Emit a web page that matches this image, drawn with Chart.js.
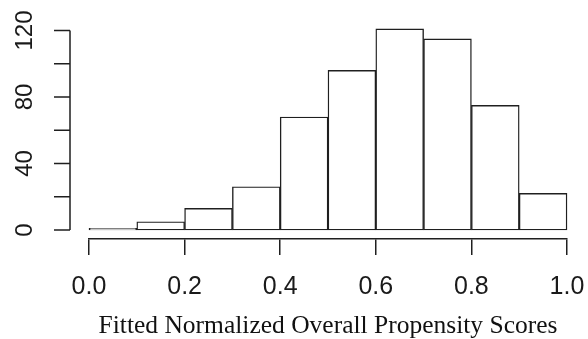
<!DOCTYPE html>
<html><head><meta charset="utf-8">
<script src="https://cdn.jsdelivr.net/npm/chart.js@4/dist/chart.umd.min.js"></script>
<style>html,body{margin:0;padding:0;background:#fff}#wrap{width:588px;height:339px}</style>
</head><body><div id="wrap"><canvas id="c" width="588" height="339"></canvas></div>
<script>
// ---- data ----
const binMids = [0.05, 0.15, 0.25, 0.35, 0.45, 0.55, 0.65, 0.75, 0.85, 0.95];
const counts = [1, 5, 13, 26, 68, 96, 121, 115, 75, 22];
const xTickValues = [0, 0.2, 0.4, 0.6, 0.8, 1.0];
const xTickLabels = ['0.0', '0.2', '0.4', '0.6', '0.8', '1.0'];
const yTickValues = [0, 20, 40, 60, 80, 100, 120];
const yLabelValues = [0, 40, 80, 120];
const yLabelTexts = ['0', '40', '80', '120'];
const xTitle = 'Fitted Normalized Overall Propensity Scores';

// ---- style ----
const LINE = '#1f1f1f';
const TEXT = '#1a1a1a';

const rYAxis = {
  id: 'rYAxis',
  afterDraw(chart) {
    const ctx = chart.ctx, xs = chart.scales.x, ys = chart.scales.y;
    const ax = xs.getPixelForValue(0) - 19;
    ctx.save();
    ctx.strokeStyle = LINE;
    ctx.lineWidth = 1.5;
    ctx.beginPath();
    ctx.moveTo(ax, ys.getPixelForValue(yTickValues[0]));
    ctx.lineTo(ax, ys.getPixelForValue(yTickValues[yTickValues.length - 1]));
    yTickValues.forEach(v => {
      const p = ys.getPixelForValue(v);
      ctx.moveTo(ax, p);
      ctx.lineTo(ax - 16, p);
    });
    ctx.stroke();
    ctx.fillStyle = TEXT;
    ctx.font = '24px "Liberation Sans", Arial, sans-serif';
    ctx.textAlign = 'center';
    ctx.textBaseline = 'middle';
    yLabelValues.forEach((v, i) => {
      const p = ys.getPixelForValue(v);
      ctx.save();
      ctx.translate(ax - 45, p);
      ctx.rotate(-Math.PI / 2);
      ctx.fillText(yLabelTexts[i], 0, 0);
      ctx.restore();
    });
    ctx.restore();
  }
};

new Chart(document.getElementById('c'), {
  type: 'bar',
  data: {
    datasets: [{
      data: binMids.map((m, i) => ({x: m, y: counts[i]})),
      backgroundColor: '#ffffff',
      borderColor: LINE,
      borderWidth: 1.4,
      borderSkipped: false,
      barPercentage: 1,
      categoryPercentage: 1,
      clip: false
    }]
  },
  options: {
    responsive: false,
    animation: false,
    layout: {padding: {left: 89, right: 21, top: 30.5, bottom: 0}},
    plugins: {legend: {display: false}, tooltip: {enabled: false}},
    scales: {
      x: {
        type: 'linear', min: 0, max: 1, offset: false,
        afterBuildTicks: s => { s.ticks = xTickValues.map(v => ({value: v})); },
        afterFit: s => { s.height = 100; s.paddingLeft = 18; s.paddingRight = 18; },
        grid: {display: true, drawOnChartArea: false, drawTicks: true, tickLength: 16, offset: false, color: LINE, lineWidth: 1.5},
        border: {display: true, color: LINE, width: 1.5},
        ticks: {
          callback: (v, i) => xTickLabels[i],
          font: {family: '"Liberation Sans", Arial, sans-serif', size: 25},
          color: TEXT, padding: 17, maxRotation: 0, minRotation: 0, autoSkip: false
        },
        title: {
          display: true, text: xTitle, color: '#111',
          font: {family: '"Liberation Serif", "Times New Roman", serif', size: 25.5, lineHeight: 1},
          padding: {top: 0, bottom: 0}
        }
      },
      y: {
        type: 'linear', display: false, min: -5.4, max: 120
      }
    }
  },
  plugins: [rYAxis]
});
</script>
</body></html>
